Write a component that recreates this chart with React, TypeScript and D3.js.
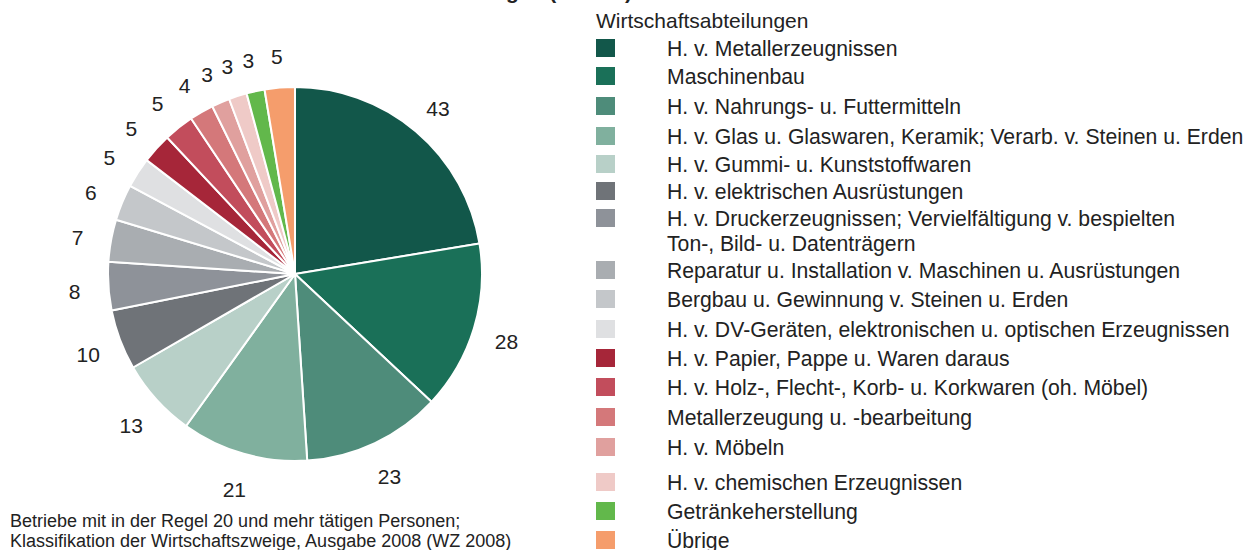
import React from "react";
import * as d3 from "d3";

const categories = [
  "H. v. Metallerzeugnissen",
  "Maschinenbau",
  "H. v. Nahrungs- u. Futtermitteln",
  "H. v. Glas u. Glaswaren, Keramik; Verarb. v. Steinen u. Erden",
  "H. v. Gummi- u. Kunststoffwaren",
  "H. v. elektrischen Ausrüstungen",
  "H. v. Druckerzeugnissen; Vervielfältigung  v. bespielten|Ton-, Bild- u. Datenträgern",
  "Reparatur u. Installation v. Maschinen u. Ausrüstungen",
  "Bergbau u. Gewinnung v. Steinen u. Erden",
  "H. v. DV-Geräten, elektronischen u. optischen Erzeugnissen",
  "H. v. Papier, Pappe u. Waren daraus",
  "H. v. Holz-, Flecht-, Korb- u. Korkwaren (oh. Möbel)",
  "Metallerzeugung u. -bearbeitung",
  "H. v. Möbeln",
  "H. v. chemischen Erzeugnissen",
  "Getränkeherstellung",
  "Übrige",
];

const values = [43, 28, 23, 21, 13, 10, 8, 7, 6, 5, 5, 5, 4, 3, 3, 3, 5];

const colors = [
  "#12574a", "#1a7058", "#4e8c7a", "#80b09e", "#b8d0c8",
  "#6f7378", "#8e9299", "#a9adb1", "#c4c7ca", "#dfe0e2",
  "#a62639", "#c24d5c", "#d4787a", "#e0a09e", "#efcac7",
  "#62b84b", "#f59d6c",
];

const legendRowY = [48, 76, 106, 136, 164, 191, 218, 270, 299, 329, 358, 387, 417, 447, 482, 511, 540];

const titleText = "Verarbeitendes Gewerbe: Betriebe nach Wirtschaftsabteilungen (Anzahl)";
const legendTitle = "Wirtschaftsabteilungen";
const footnote = [
  "Betriebe mit in der Regel 20 und mehr tätigen Personen;",
  "Klassifikation der Wirtschaftszweige, Ausgabe 2008 (WZ 2008)",
];

const FONT = "'Liberation Sans', Arial, sans-serif";

export default function App() {
  const width = 1254;
  const height = 550;
  const cx = 295;
  const cy = 274;
  const r = 187;
  const labelR = 221;

  const pie = d3.pie<number>().sort(null).value((d) => d);
  const arcs = pie(values);
  const arc = d3.arc<d3.PieArcDatum<number>>().innerRadius(0).outerRadius(r);
  const labelArc = d3.arc<d3.PieArcDatum<number>>().innerRadius(labelR).outerRadius(labelR);

  const color = d3.scaleOrdinal<number, string>().domain(d3.range(values.length)).range(colors);
  const rowY = d3.scaleOrdinal<number, number>().domain(d3.range(values.length)).range(legendRowY);

  return (
    <svg
      width={width}
      height={height}
      style={{ position: "absolute", left: 0, top: 0, background: "#fff" }}
      fontFamily={FONT}
    >
      <text x={632} y={-1} textAnchor="end" fontSize={21} fontWeight="bold" fill="#222">
        {titleText}
      </text>
      <g transform={`translate(${cx},${cy})`}>
        {arcs.map((a, i) => (
          <path key={i} d={arc(a) || ""} fill={color(i)} stroke="#fff" strokeWidth={2} strokeLinejoin="round" />
        ))}
        {arcs.map((a, i) => {
          const [x, y] = labelArc.centroid(a);
          return (
            <text key={i} x={x} y={y + 3} textAnchor="middle" dominantBaseline="central" fontSize={21} fill="#222">
              {values[i]}
            </text>
          );
        })}
      </g>
      <text x={596} y={28} fontSize={21} fill="#222">
        {legendTitle}
      </text>
      {categories.map((c, i) => {
        const y = rowY(i);
        const lines = c.split("|");
        return (
          <g key={i}>
            <rect x={596} y={y - 9} width={19} height={18} fill={color(i)} />
            {lines.map((l, j) => (
              <text key={j} x={667} y={y + j * 25} dominantBaseline="central" fontSize={21.2} fill="#222">
                {l}
              </text>
            ))}
          </g>
        );
      })}
      {footnote.map((l, i) => (
        <text key={i} x={10} y={521 + i * 20} dominantBaseline="central" fontSize={18} fill="#222">
          {l}
        </text>
      ))}
    </svg>
  );
}
